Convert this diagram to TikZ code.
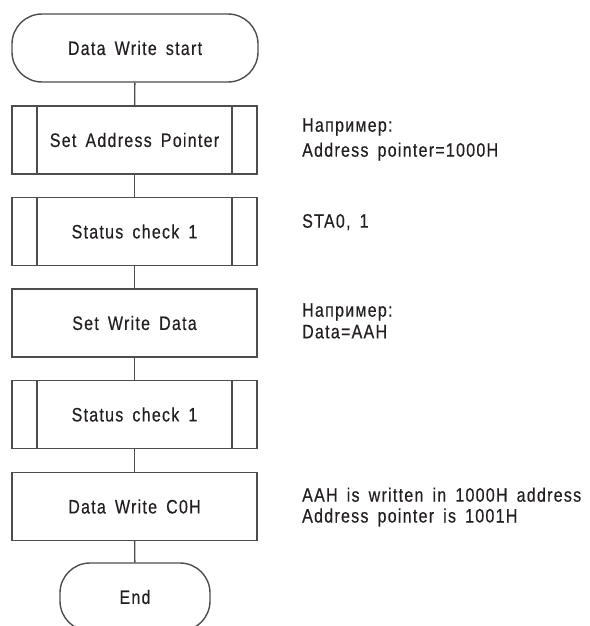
\documentclass[tikz,border=0pt]{standalone}
\usepackage{fontspec}
\setmainfont{Liberation Sans}[FakeStretch=0.82, LetterSpace=6.5, WordSpace=1.6, FakeBold=0.4]
\begin{document}
\begin{tikzpicture}[x=1pt, y=-1pt,
  every node/.style={font=\fontsize{19.5}{23}\selectfont, text=txtcol, inner sep=0pt},
  flowline/.style={draw=linecol, line width=1.4pt},
  term/.style={flowline, rectangle, rounded corners=30pt, minimum height=68pt,
    text height=13.9pt, text depth=0pt},
  procbox/.style={flowline, rectangle, minimum width=245pt, minimum height=68pt,
    text height=13.9pt, text depth=0pt},
  subproc/.style={procbox, path picture={
    \draw[linecol, line width=1.4pt]
      ([xshift=25pt]path picture bounding box.north west) --
      ([xshift=25pt]path picture bounding box.south west)
      ([xshift=-25pt]path picture bounding box.north east) --
      ([xshift=-25pt]path picture bounding box.south east);}},
  note/.style={anchor=base west},
  link/.style={flowline}
]
\definecolor{linecol}{HTML}{4D4D4D}
\definecolor{txtcol}{HTML}{231F20}
\clip (0,0) rectangle (589,626);
\useasboundingbox (0,0) rectangle (589,626);

% main flow
\node[term, minimum width=246pt] (start) at (135,48)    {Data Write start};
\node[subproc] (setptr)  at (134.5,140)   {Set Address Pointer};
\node[subproc] (chk1)    at (134.5,231.5) {Status check 1};
\node[procbox] (setdata) at (134.5,323)   {Set Write Data};
\node[subproc] (chk2)    at (134.5,414.5) {Status check 1};
\node[procbox] (write)   at (134.5,506.5) {Data Write C0H};
\node[term, minimum width=150pt] (stop) at (135,597) {End};

\draw[link] (start) -- (setptr);
\draw[link] (setptr) -- (chk1);
\draw[link] (chk1) -- (setdata);
\draw[link] (setdata) -- (chk2);
\draw[link] (chk2) -- (write);
\draw[link] (write) -- (stop);

% side notes
\node[note] (n1a) at (302,131.7) {Например:};
\node[note] (n1b) at (302,156.7) {Address pointer=1000H};
\node[note] (n2)  at (302,227.7) {STA0, 1};
\node[note] (n3a) at (302,316.7) {Например:};
\node[note] (n3b) at (302,338.3) {Data=AAH};
\node[note] (n4a) at (302,501.7) {AAH is written in 1000H address};
\node[note] (n4b) at (302,522.5) {Address pointer is 1001H};
\end{tikzpicture}
\end{document}
